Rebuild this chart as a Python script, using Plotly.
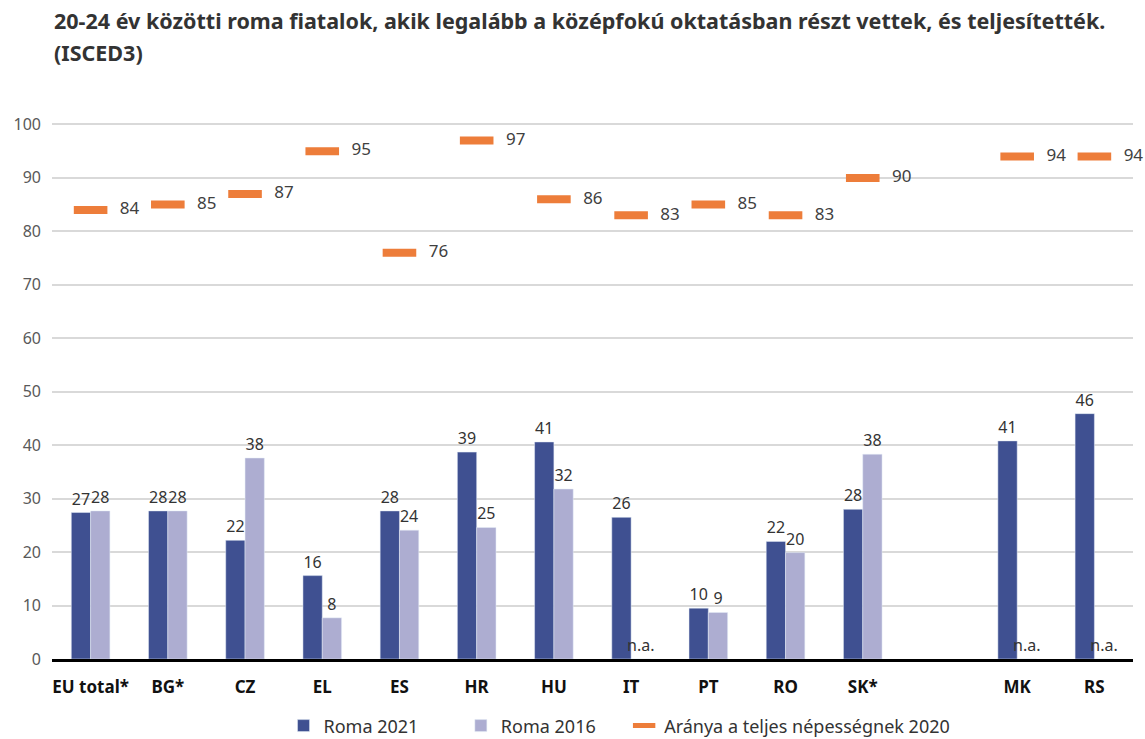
import plotly.graph_objects as go

# Adatok
orszagok = ['EU total*', 'BG*', 'CZ', 'EL', 'ES', 'HR', 'HU', 'IT', 'PT', 'RO', 'SK*', ' ', 'MK', 'RS']
roma_2021 = [27.4, 27.7, 22.2, 15.6, 27.7, 38.7, 40.6, 26.5, 9.5, 22.0, 28.0, None, 40.8, 45.9]
roma_2021_cimke = ['27', '28', '22', '16', '28', '39', '41', '26', '10', '22', '28', '', '41', '46']
roma_2016 = [27.7, 27.7, 37.6, 7.7, 24.1, 24.6, 31.8, 0, 8.7, 19.9, 38.3, None, 0, 0]
roma_2016_cimke = ['28', '28', '38', '8', '24', '25', '32', 'n.a.', '9', '20', '38', '', 'n.a.', 'n.a.']
teljes_2020 = [84, 85, 87, 95, 76, 97, 86, 83, 85, 83, 90, None, 94, 94]

SOTET = '#3F5091'
VILAGOS = '#ADADD1'
NARANCS = '#ED7D3A'
BETU = 'Noto Sans'

fig = go.Figure()

fig.add_trace(go.Bar(
    x=orszagok, y=roma_2021, name='Roma 2021        ',
    marker_color=SOTET,
    text=roma_2021_cimke, textposition='outside',
    textfont=dict(size=16, color='#333333', family=BETU),
    constraintext='none', cliponaxis=False
))

fig.add_trace(go.Bar(
    x=orszagok, y=roma_2016, name='Roma 2016     ',
    marker_color=VILAGOS,
    text=roma_2016_cimke, textposition='outside',
    textfont=dict(size=16, color='#333333', family=BETU),
    constraintext='none', cliponaxis=False
))

fig.add_trace(go.Scatter(
    x=orszagok, y=teljes_2020, name='Aránya a teljes népességnek 2020',
    mode='markers+text',
    marker=dict(symbol='line-ew', size=24, line=dict(width=8, color=NARANCS)),
    text=['   ' + str(v) if v is not None else '' for v in teljes_2020],
    textposition='middle right',
    textfont=dict(size=17, color='#404040', family=BETU),
    cliponaxis=False
))

# cím két sorban, annotációként
cim_sorok = ['20-24 év közötti roma fiatalok, akik legalább a középfokú oktatásban részt vettek, és teljesítették.',
             '(ISCED3)']
for sor, y in zip(cim_sorok, [1.117, 1.061]):
    fig.add_annotation(
        text='<b>' + sor + '</b>',
        xref='paper', yref='paper', x=0, y=y, xanchor='left', yanchor='middle',
        align='left', showarrow=False,
        font=dict(size=21.5, color='#333333', family=BETU)
    )

fig.update_layout(
    width=1145, height=739,
    paper_bgcolor='white', plot_bgcolor='white',
    font=dict(family=BETU, color='#404040'),
    barmode='group', bargap=0.5, bargroupgap=0,
    margin=dict(l=52, r=12, t=87, b=80, autoexpand=False),
    legend=dict(
        orientation='h', x=0.525, xanchor='center', y=-0.117, yanchor='middle',
        font=dict(size=18, color='#333333'), itemwidth=30, traceorder='normal'
    ),
    showlegend=True
)

fig.update_yaxes(
    range=[0, 107], dtick=10, tick0=0,
    showgrid=True, gridcolor='#D9D9D9', gridwidth=2,
    zeroline=False, showline=False,
    tickfont=dict(size=16, color='#595959'),
    ticklabelstandoff=10
)

fig.update_xaxes(
    type='category', range=[-0.5, len(orszagok) - 0.5],
    showline=True, linecolor='black', linewidth=3,
    tickfont=dict(size=17, color='#111111', family=BETU),
    ticklabelstandoff=11,
    tickvals=orszagok,
    ticktext=['<b>' + o + '</b>' for o in orszagok]
)

# a böngésző alapértelmezett 8px-es margója nélkül
fig.write_html('out.html', config={'displayModeBar': False},
               post_script="document.body.style.margin='0';")
